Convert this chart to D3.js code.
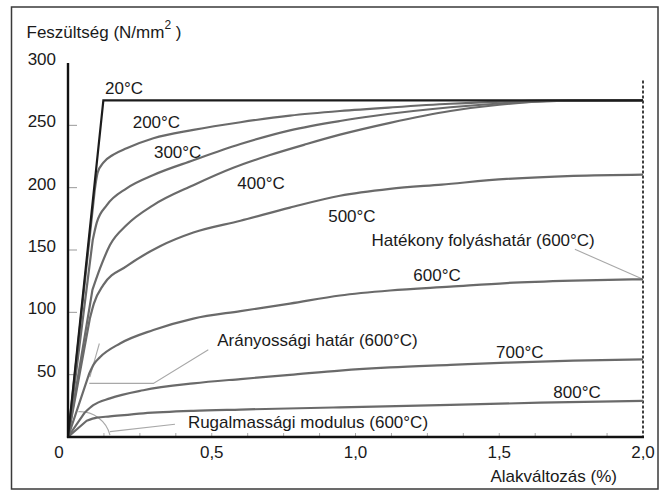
<!DOCTYPE html>
<html>
<head>
<meta charset="utf-8">
<script src="https://cdn.jsdelivr.net/npm/d3@7"></script>
<style>
  html, body { margin: 0; padding: 0; background: #fff; }
  svg { display: block; }
  text { font-family: "Liberation Sans", Arial, sans-serif; fill: #1a1a1a; }
</style>
</head>
<body>
<svg id="chart" width="667" height="493"></svg>
<script>
// Stress–strain curves of steel at elevated temperatures
// strain in %, stress in N/mm²

const xTickValues = [0, 0.5, 1.0, 1.5, 2.0];
const xTickLabels = ["0", "0,5", "1,0", "1,5", "2,0"];
const yTickValues = [50, 100, 150, 200, 250];
const yTickLabels = ["50", "100", "150", "200", "250", "300"];
const yLabelValues = [50, 100, 150, 200, 250, 300];

const curveNames = ["20°C", "200°C", "300°C", "400°C", "500°C", "600°C", "700°C", "800°C"];

const c20 = [[0, 0], [0.123, 270], [2.0, 270]];
const c200 = [[0, 0], [0.093, 198], [0.103, 212], [0.123, 220], [0.158, 226.5], [0.204, 231.6], [0.297, 239.6],
  [0.436, 246.3], [0.6, 252.5], [0.772, 257.8], [0.946, 261.5], [1.13, 264.5], [1.33, 267.3], [1.55, 269.3], [1.75, 270], [2.0, 270]];
const c300 = [[0, 0], [0.086, 158], [0.1, 172], [0.135, 186], [0.204, 199.5], [0.297, 210.2], [0.436, 222],
  [0.6, 235], [0.772, 246], [0.946, 253.5], [1.062, 257.5], [1.33, 264.5], [1.5, 267.5], [1.7, 269.5], [2.0, 270]];
const c400 = [[0, 0], [0.085, 118], [0.111, 135], [0.146, 154], [0.204, 170], [0.297, 186], [0.436, 202],
  [0.575, 216], [0.7, 226], [0.83, 235], [0.946, 242.5], [1.12, 252], [1.33, 261.5], [1.5, 266.5], [1.7, 269.5], [2.0, 270]];
const c500 = [[0, 0], [0.076, 95], [0.09, 107], [0.123, 122], [0.204, 137], [0.32, 153], [0.436, 164],
  [0.6, 173.5], [0.772, 184], [0.946, 193.5], [1.12, 199], [1.3, 202.5], [1.526, 207], [1.758, 209.5], [2.0, 210.5]];
const c600 = [[0, 0], [0.074, 51], [0.09, 58.5], [0.111, 64], [0.181, 75], [0.297, 85.8], [0.436, 95],
  [0.6, 101], [0.772, 107], [0.946, 113.5], [1.12, 117.5], [1.33, 120.6], [1.526, 123.5], [1.758, 125.4], [2.0, 126.5]];
const c700 = [[0, 0], [0.058, 19.5], [0.088, 25.5], [0.146, 31], [0.262, 37.5], [0.436, 43], [0.6, 46.5],
  [0.772, 49.8], [0.946, 53.3], [1.12, 55.8], [1.33, 57.8], [1.526, 59.6], [1.758, 61.2], [2.0, 62.3]];
const c800 = [[0, 0], [0.065, 13], [0.1, 15.5], [0.146, 16.5], [0.262, 19], [0.436, 21], [0.6, 22],
  [0.946, 23.8], [1.33, 25.7], [1.642, 27.5], [2.0, 29]];

// where each curve name is written (strain, stress of the text baseline start)
const labelStrain = [0.129, 0.225, 0.299, 0.589, 0.905, 1.201, 1.489, 1.688];
const labelStress = [275, 247.6, 223.8, 198.9, 172.7, 125.1, 63.4, 31.3];

const svg = d3.select("#chart");
const W = 667, H = 493;

const x = d3.scaleLinear().domain([0, 2.0]).range([68, 643]);
const y = d3.scaleLinear().domain([0, 300]).range([437, 63]);

// outer frame
svg.append("rect")
  .attr("x", 11.5).attr("y", 7)
  .attr("width", 646.5).attr("height", 482)
  .attr("fill", "none").attr("stroke", "#3a3a3a").attr("stroke-width", 1.5);

// minor ticks along the strain axis
const minor = d3.range(1, 16).map(i => i * 0.125);
svg.append("g").selectAll("line").data(minor).join("line")
  .attr("x1", d => x(d)).attr("x2", d => x(d))
  .attr("y1", y(0)).attr("y2", y(0) - 4)
  .attr("stroke", "#aaa").attr("stroke-width", 1);

// stress ticks (inside the plot)
svg.append("g").selectAll("line").data(yTickValues).join("line")
  .attr("x1", x(0)).attr("x2", x(0) + 9)
  .attr("y1", d => y(d)).attr("y2", d => y(d))
  .attr("stroke", "#999").attr("stroke-width", 1);

// dashed limit at 2 %
svg.append("line")
  .attr("x1", x(2.0)).attr("x2", x(2.0))
  .attr("y1", y(286)).attr("y2", y(0))
  .attr("stroke", "#111").attr("stroke-width", 1.6)
  .attr("stroke-dasharray", "3,2");

// annotation leaders (light grey)
const annot = svg.append("g").attr("fill", "none").attr("stroke", "#a8a8a8").attr("stroke-width", 1.1);
const propLeader = [[0.488, 70], [0.297, 43], [0.074, 43]];
annot.append("path").attr("d", d3.line().x(d => x(d[0])).y(d => y(d[1]))(propLeader));
const propTangent = [[0.076, 48], [0.109, 75]];
annot.append("path").attr("d", d3.line().x(d => x(d[0])).y(d => y(d[1]))(propTangent));
const yieldLeader = [[1.763, 150.6], [2.0, 126.5]];
annot.append("path").attr("d", d3.line().x(d => x(d[0])).y(d => y(d[1]))(yieldLeader));
const modLeader = [[0.146, 4.3], [0.372, 10.2]];
annot.append("path").attr("d", d3.line().x(d => x(d[0])).y(d => y(d[1]))(modLeader));
const arcFrom = [0.036, 20.3], arcTo = [0.146, 1.5];
annot.append("path").attr("d",
  `M${x(arcFrom[0])},${y(arcFrom[1])} A31,31 0 0 1 ${x(arcTo[0])},${y(arcTo[1])}`);

// curves: straight elastic part from the origin, smooth plastic part after
const smooth = d3.line().x(d => x(d[0])).y(d => y(d[1])).curve(d3.curveMonotoneX);
function curvePath(pts) {
  const rest = smooth(pts.slice(1));
  return `M${x(pts[0][0])},${y(pts[0][1])}L` + rest.slice(1);
}
const hot = [c800, c700, c600, c500, c400, c300, c200];
svg.append("g").selectAll("path").data(hot).join("path")
  .attr("d", curvePath)
  .attr("fill", "none").attr("stroke", "#6a6a6a").attr("stroke-width", 2.2)
  .attr("stroke-linejoin", "round");

svg.append("path")
  .attr("d", d3.line().x(d => x(d[0])).y(d => y(d[1]))(c20))
  .attr("fill", "none").attr("stroke", "#1c1c1c").attr("stroke-width", 2.2)
  .attr("stroke-linejoin", "miter");

// axes
svg.append("line").attr("x1", x(0)).attr("x2", x(0)).attr("y1", y(300)).attr("y2", y(0) + 1)
  .attr("stroke", "#111").attr("stroke-width", 2.4);
svg.append("line").attr("x1", x(0) - 1).attr("x2", x(2.0) + 1).attr("y1", y(0)).attr("y2", y(0))
  .attr("stroke", "#111").attr("stroke-width", 2.4);

const fs = 17;

// stress tick labels
svg.append("g").selectAll("text").data(yLabelValues).join("text")
  .attr("x", 56).attr("y", d => y(d) + 2)
  .attr("text-anchor", "end").attr("font-size", fs)
  .text((d, i) => yTickLabels[i]);

// strain tick labels
svg.append("g").selectAll("text").data(xTickValues).join("text")
  .attr("x", d => d === 0 ? x(d) - 9 : x(d))
  .attr("y", 458)
  .attr("text-anchor", "middle").attr("font-size", fs)
  .text((d, i) => xTickLabels[i]);

// axis titles
const yt = svg.append("text").attr("x", 26.5).attr("y", 37.5).attr("font-size", fs);
yt.append("tspan").text("Feszültség (N/mm");
yt.append("tspan").attr("font-size", 12).attr("dy", -9).text("2");
yt.append("tspan").attr("dy", 9).text(" )");

svg.append("text").attr("x", 617).attr("y", 482)
  .attr("text-anchor", "end").attr("font-size", fs)
  .text("Alakváltozás (%)");

// curve names
svg.append("g").selectAll("text").data(curveNames).join("text")
  .attr("x", (d, i) => x(labelStrain[i]))
  .attr("y", (d, i) => y(labelStress[i]))
  .attr("font-size", fs)
  .text(d => d);

// annotation texts
const notes = [
  { t: "Hatékony folyáshatár (600°C)", s: 1.056, v: 153.2 },
  { t: "Arányossági határ (600°C)", s: 0.519, v: 73 },
  { t: "Rugalmassági modulus (600°C)", s: 0.417, v: 7.2 }
];
svg.append("g").selectAll("text").data(notes).join("text")
  .attr("x", d => x(d.s)).attr("y", d => y(d.v))
  .attr("font-size", fs)
  .text(d => d.t);
</script>
</body>
</html>
